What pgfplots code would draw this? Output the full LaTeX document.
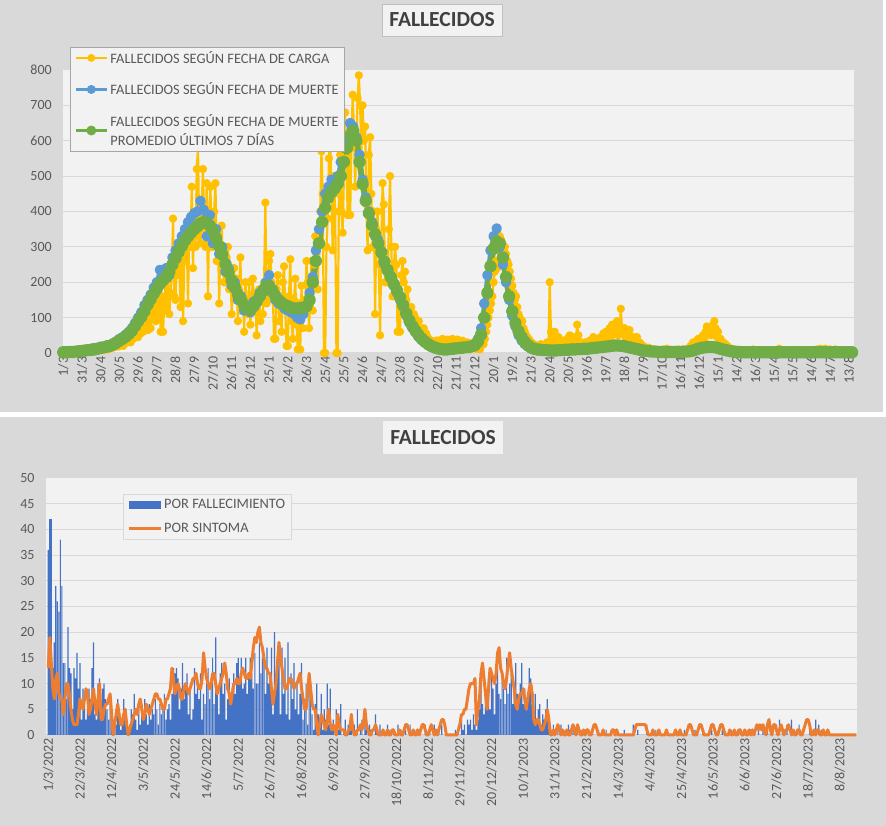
\documentclass[border=0pt]{standalone}
\usepackage{fontspec}
\setmainfont{Carlito}
\usepackage{pgfplots}
\pgfplotsset{compat=1.18}
\usepackage{pgfplotstable}
\definecolor{bggray}{HTML}{D9D9D9}
\definecolor{plotbg}{HTML}{F2F2F2}
\definecolor{gridc}{HTML}{D9D9D9}
\definecolor{lblc}{HTML}{595959}
\definecolor{titlec}{HTML}{404040}
\definecolor{legb}{HTML}{A6A6A6}
\definecolor{titb}{HTML}{BFBFBF}
\definecolor{cyel}{HTML}{FFC000}
\definecolor{cblu}{HTML}{5B9BD5}
\definecolor{cgrn}{HTML}{70AD47}
\definecolor{cbar}{HTML}{4472C4}
\definecolor{corg}{HTML}{ED7D31}

% top chart: one row every 5 days from 1/3/2020 (g = promedio 7 dias, b = fecha de muerte)
\pgfplotstableread[row sep=\\]{g b y\\
2 2 0\\2 3 1\\3 3 2\\3 4 5\\4 5 3\\5 6 8\\6 7 4\\7 9 12\\8 8 6\\9 12 10\\
10 14 7\\12 11 15\\14 18 10\\16 15 20\\18 22 12\\20 19 25\\24 28 15\\29 33 24\\35 40 20\\40 45 38\\
46 52 28\\54 60 45\\63 70 35\\76 85 60\\90 100 45\\102 115 80\\118 135 60\\136 150 110\\152 165 70\\168 185 140\\
182 200 90\\196 235 160\\206 230 60\\214 240 190\\230 220 110\\250 270 380\\268 290 150\\286 310 250\\302 330 90\\318 350 280\\
330 370 140\\340 385 470\\350 395 300\\358 400 580\\366 430 310\\370 405 520\\368 330 160\\360 390 470\\345 310 300\\325 350 480\\
302 280 140\\278 300 360\\252 230 200\\228 240 300\\205 190 110\\185 200 240\\166 150 90\\150 160 270\\136 120 60\\124 130 200\\
122 115 80\\132 145 210\\145 150 50\\160 170 180\\175 180 110\\188 200 425\\190 220 150\\178 170 280\\162 150 40\\150 140 220\\
142 135 60\\136 125 245\\132 120 20\\128 115 265\\126 110 40\\126 100 210\\127 95 10\\128 110 190\\132 130 70\\150 170 260\\
200 215 120\\260 290 330\\310 350 180\\370 400 570\\410 450 0\\440 470 380\\455 490 620\\465 480 290\\478 500 0\\500 540 560\\
540 580 340\\580 610 680\\615 650 390\\628 640 730\\600 610 470\\540 560 785\\478 490 700\\430 440 600\\395 400 290\\362 370 610\\
336 330 110\\310 320 400\\285 280 50\\258 250 480\\235 230 200\\215 210 500\\195 190 160\\176 170 300\\158 150 60\\135 130 260\\
112 105 230\\92 85 180\\76 70 90\\62 58 110\\50 45 60\\40 36 70\\32 30 40\\25 22 45\\20 17 30\\16 14 25\\
13 12 35\\11 10 20\\10 9 40\\10 10 22\\11 12 38\\12 13 18\\13 15 40\\14 13 25\\15 17 38\\16 15 20\\
17 18 35\\19 20 15\\22 24 30\\32 40 10\\52 70 25\\100 140 40\\170 220 80\\245 290 120\\295 330 200\\315 352 260\\
310 300 330\\270 250 310\\215 200 280\\160 150 230\\118 105 190\\85 75 150\\62 50 110\\45 35 80\\32 25 60\\22 18 40\\
16 12 30\\12 10 20\\10 8 15\\9 7 18\\8 6 25\\8 7 20\\7 6 200\\7 8 60\\7 6 45\\8 9 20\\
8 7 35\\9 10 15\\9 8 40\\10 12 50\\10 9 25\\11 12 80\\11 10 20\\12 13 15\\12 11 30\\13 14 25\\
14 13 10\\15 16 45\\16 17 30\\17 18 25\\18 19 55\\19 20 40\\20 22 80\\21 20 60\\21 22 90\\20 19 125\\
19 18 70\\17 15 45\\15 13 65\\13 11 30\\11 9 45\\9 7 20\\7 6 25\\6 5 15\\5 4 10\\4 3 12\\
4 3 5\\3 3 8\\3 2 6\\3 3 10\\3 2 5\\3 3 12\\3 2 6\\3 3 8\\3 3 5\\4 4 10\\
4 5 8\\5 6 15\\7 8 30\\10 12 25\\13 15 40\\15 17 35\\16 18 45\\17 16 75\\17 18 55\\16 15 90\\
14 13 45\\11 10 35\\9 8 20\\7 6 15\\5 4 10\\4 3 12\\3 3 6\\3 2 4\\2 2 8\\2 2 3\\
2 2 5\\2 2 2\\2 2 10\\2 2 3\\2 1 4\\2 2 2\\2 2 6\\2 2 3\\2 2 5\\2 2 2\\
2 2 4\\2 1 12\\2 2 3\\2 2 5\\2 2 2\\2 2 6\\2 2 3\\2 2 8\\2 2 4\\2 2 3\\
2 2 5\\2 2 8\\2 2 3\\2 2 10\\2 2 4\\2 2 12\\2 2 5\\2 2 3\\2 2 10\\2 2 4\\
2 2 2\\2 1 1\\2 1 1\\2 1 1\\
}\topdata

% top chart, fecha de carga: one value every 2 days from 1/3/2020
\pgfplotstableread[row sep=\\]{y\\
0\\1\\0\\2\\1\\3\\1\\2\\4\\2\\ 3\\5\\2\\8\\4\\6\\3\\10\\5\\12\\
6\\9\\4\\11\\8\\14\\6\\12\\9\\16\\ 10\\14\\8\\20\\12\\18\\10\\25\\14\\22\\
15\\26\\20\\30\\18\\35\\24\\42\\20\\38\\ 28\\45\\35\\55\\30\\62\\40\\70\\45\\58\\
45\\80\\55\\95\\60\\105\\70\\120\\65\\110\\ 70\\140\\95\\155\\90\\170\\110\\190\\60\\160\\
60\\150\\190\\120\\210\\110\\170\\230\\380\\160\\ 150\\280\\220\\250\\130\\300\\90\\260\\280\\320\\
140\\360\\300\\470\\240\\380\\300\\520\\580\\330\\ 310\\420\\520\\350\\300\\480\\160\\390\\470\\300\\
300\\400\\480\\260\\330\\140\\290\\360\\240\\200\\ 200\\270\\300\\180\\240\\110\\200\\240\\150\\210\\
90\\180\\270\\120\\160\\60\\200\\140\\110\\200\\ 80\\150\\210\\120\\170\\50\\140\\180\\90\\110\\
110\\200\\425\\140\\150\\260\\280\\200\\160\\40\\ 40\\180\\220\\90\\150\\60\\200\\245\\120\\20\\
20\\160\\265\\90\\40\\150\\210\\80\\10\\140\\ 10\\190\\70\\150\\130\\260\\200\\70\\150\\260\\
120\\250\\330\\280\\180\\350\\400\\570\\450\\0\\ 0\\300\\380\\550\\620\\450\\290\\500\\400\\0\\
0\\450\\560\\400\\340\\500\\680\\550\\390\\620\\ 390\\580\\730\\640\\470\\600\\720\\785\\700\\560\\
700\\600\\640\\420\\290\\560\\610\\450\\300\\400\\ 110\\350\\400\\250\\50\\300\\480\\420\\200\\260\\
200\\350\\500\\300\\160\\240\\300\\250\\60\\180\\ 60\\220\\260\\200\\230\\150\\180\\120\\90\\130\\
90\\110\\100\\80\\60\\90\\70\\60\\50\\70\\ 40\\55\\45\\40\\30\\35\\30\\28\\25\\35\\
35\\25\\20\\30\\40\\25\\22\\35\\38\\30\\ 18\\28\\40\\32\\25\\35\\38\\28\\20\\30\\
35\\25\\15\\28\\30\\22\\10\\25\\18\\30\\ 20\\12\\25\\15\\10\\20\\30\\25\\40\\60\\
80\\100\\120\\140\\160\\200\\230\\260\\240\\300\\ 330\\320\\310\\290\\300\\280\\260\\250\\230\\210\\
190\\170\\150\\160\\130\\110\\100\\80\\90\\70\\ 60\\50\\45\\40\\35\\30\\28\\25\\20\\22\\
15\\18\\20\\25\\22\\18\\20\\25\\30\\20\\ 200\\60\\45\\30\\60\\40\\30\\45\\20\\25\\
35\\20\\15\\25\\40\\30\\50\\35\\25\\45\\ 25\\35\\80\\50\\20\\30\\15\\25\\30\\20\\
30\\25\\35\\10\\20\\45\\25\\30\\40\\25\\ 30\\45\\25\\55\\35\\60\\40\\50\\70\\45\\
80\\55\\60\\75\\90\\50\\60\\125\\70\\55\\ 70\\40\\45\\60\\65\\35\\30\\45\\25\\40\\
45\\20\\30\\25\\15\\20\\15\\12\\10\\15\\ 10\\12\\8\\5\\10\\8\\6\\5\\8\\4\\
6\\10\\5\\8\\12\\6\\5\\8\\4\\6\\ 6\\8\\5\\10\\6\\4\\8\\10\\6\\8\\
8\\12\\15\\20\\18\\30\\25\\28\\35\\40\\ 40\\35\\45\\50\\35\\60\\75\\55\\65\\50\\
55\\80\\90\\70\\45\\60\\35\\40\\25\\30\\ 20\\25\\15\\18\\12\\10\\12\\8\\6\\10\\
6\\4\\8\\5\\3\\8\\4\\3\\6\\2\\ 5\\2\\3\\10\\3\\4\\2\\6\\3\\2\\
4\\2\\6\\3\\2\\5\\2\\4\\3\\2\\ 5\\2\\4\\3\\12\\3\\2\\5\\3\\2\\
3\\5\\2\\6\\3\\2\\8\\4\\3\\2\\ 3\\8\\4\\3\\2\\5\\3\\2\\8\\3\\
5\\8\\3\\2\\10\\4\\3\\12\\5\\3\\ 4\\12\\5\\3\\2\\10\\4\\2\\3\\10\\
4\\2\\3\\2\\1\\1\\
}\yeldata

% bottom chart: one value per day from 1/3/2022
\pgfplotstableread[row sep=\\]{v\\
36\\42\\42\\13\\18\\29\\26\\24\\38\\29\\14\\14\\7\\21\\13\\12\\5\\13\\11\\16\\
9\\14\\3\\9\\6\\3\\5\\9\\7\\13\\18\\4\\3\\10\\11\\3\\9\\10\\7\\5\\
3\\6\\4\\1\\3\\2\\7\\5\\1\\2\\7\\5\\3\\1\\2\\5\\4\\8\\3\\1\\
5\\2\\6\\3\\7\\4\\2\\6\\3\\5\\4\\7\\5\\2\\6\\4\\5\\8\\3\\5\\
6\\3\\8\\13\\12\\13\\11\\5\\9\\14\\7\\10\\12\\4\\9\\3\\5\\13\\8\\10\\
7\\12\\3\\8\\6\\10\\13\\7\\11\\15\\6\\19\\9\\4\\12\\14\\8\\10\\3\\7\\
11\\8\\9\\12\\8\\14\\15\\11\\15\\9\\10\\15\\8\\11\\15\\12\\9\\16\\10\\10\\
18\\12\\15\\16\\8\\17\\10\\12\\17\\4\\20\\11\\14\\17\\4\\17\\8\\15\\4\\18\\
3\\12\\7\\14\\5\\10\\4\\8\\14\\3\\7\\10\\2\\9\\10\\4\\1\\6\\10\\4\\
2\\8\\1\\5\\3\\10\\2\\9\\1\\3\\0\\5\\1\\2\\6\\0\\1\\3\\0\\2\\
1\\4\\0\\2\\1\\5\\0\\1\\3\\0\\4\\1\\0\\2\\1\\0\\0\\4\\1\\0\\
2\\0\\1\\0\\0\\2\\1\\0\\0\\1\\0\\0\\2\\0\\1\\0\\0\\1\\0\\0\\
2\\0\\0\\1\\0\\0\\1\\0\\0\\0\\2\\0\\0\\1\\0\\0\\2\\0\\0\\1\\
0\\2\\0\\0\\1\\0\\0\\0\\0\\0\\1\\0\\2\\0\\3\\1\\2\\0\\3\\2\\
3\\1\\4\\2\\1\\3\\5\\10\\6\\4\\8\\6\\11\\5\\12\\9\\4\\10\\13\\8\\
7\\12\\9\\6\\15\\8\\10\\12\\6\\9\\14\\8\\7\\10\\14\\6\\9\\5\\8\\13\\
11\\6\\4\\8\\3\\5\\6\\2\\4\\3\\5\\7\\2\\1\\0\\2\\1\\0\\1\\0\\
2\\0\\1\\0\\0\\2\\1\\0\\1\\0\\0\\2\\0\\0\\1\\0\\0\\1\\0\\0\\
0\\1\\0\\0\\0\\1\\0\\0\\0\\0\\1\\0\\0\\0\\0\\0\\1\\0\\0\\0\\
0\\0\\1\\0\\0\\0\\0\\0\\2\\0\\0\\1\\0\\0\\0\\0\\0\\2\\0\\0\\
0\\0\\0\\1\\0\\0\\0\\0\\0\\0\\1\\0\\0\\0\\0\\0\\1\\0\\0\\0\\
0\\0\\1\\0\\0\\0\\0\\0\\0\\1\\0\\0\\0\\0\\1\\0\\0\\0\\0\\0\\
1\\0\\0\\0\\0\\0\\0\\1\\0\\0\\0\\0\\0\\1\\0\\0\\0\\0\\0\\1\\
0\\0\\0\\0\\1\\0\\0\\0\\0\\0\\0\\2\\0\\0\\1\\0\\0\\2\\0\\1\\
0\\0\\0\\2\\0\\3\\0\\1\\0\\0\\2\\0\\0\\3\\0\\1\\0\\0\\2\\1\\
0\\0\\0\\0\\0\\1\\0\\0\\0\\3\\0\\2\\0\\1\\0\\0\\0\\0\\0\\0\\
}\falldata

\pgfplotstableread[row sep=\\]{v\\
13\\19\\14\\9\\7\\11\\12\\8\\7\\7\\4\\7\\10\\10\\8\\5\\3\\2\\2\\2\\
4\\7\\6\\5\\7\\9\\8\\4\\5\\7\\9\\6\\4\\7\\10\\3\\3\\5\\6\\6\\
7\\8\\4\\0\\2\\4\\6\\4\\2\\2\\4\\5\\2\\0\\1\\2\\3\\4\\5\\4\\
6\\7\\5\\3\\4\\6\\5\\4\\5\\6\\7\\8\\8\\7\\7\\6\\5\\5\\7\\7\\
8\\9\\13\\11\\8\\9\\10\\9\\7\\7\\9\\10\\9\\8\\9\\10\\11\\11\\12\\10\\
9\\9\\11\\16\\13\\11\\10\\9\\10\\12\\12\\10\\8\\9\\10\\11\\12\\14\\12\\9\\
8\\6\\8\\10\\10\\11\\10\\10\\12\\13\\12\\11\\11\\12\\11\\14\\17\\19\\18\\20\\
21\\18\\17\\15\\13\\13\\12\\12\\9\\6\\8\\10\\14\\18\\15\\13\\11\\9\\9\\10\\
11\\11\\10\\9\\10\\10\\11\\12\\9\\7\\5\\5\\8\\12\\9\\6\\5\\5\\2\\0\\
2\\4\\3\\2\\1\\3\\5\\2\\1\\2\\1\\0\\4\\2\\1\\1\\1\\0\\0\\1\\
1\\4\\1\\0\\0\\1\\1\\2\\1\\2\\5\\2\\1\\0\\0\\1\\1\\2\\1\\0\\
0\\0\\1\\0\\0\\1\\0\\0\\1\\1\\0\\0\\0\\1\\0\\0\\1\\2\\2\\1\\
0\\0\\1\\0\\0\\1\\0\\1\\2\\2\\1\\0\\0\\1\\2\\1\\0\\1\\0\\1\\
2\\3\\3\\2\\0\\0\\0\\0\\0\\0\\0\\0\\1\\2\\4\\4\\5\\5\\7\\9\\
10\\10\\10\\11\\2\\5\\7\\12\\14\\11\\8\\5\\9\\13\\12\\11\\10\\12\\16\\17\\
13\\12\\10\\9\\11\\14\\16\\13\\11\\9\\6\\5\\7\\8\\8\\9\\7\\5\\7\\9\\
10\\8\\3\\2\\3\\3\\2\\1\\1\\2\\3\\5\\3\\0\\0\\1\\0\\1\\2\\1\\
0\\1\\0\\0\\1\\0\\0\\1\\2\\1\\0\\2\\1\\0\\0\\1\\0\\1\\1\\0\\
0\\1\\2\\2\\1\\0\\0\\0\\1\\0\\0\\0\\0\\0\\1\\1\\0\\1\\0\\0\\
0\\0\\0\\0\\0\\0\\0\\0\\0\\1\\2\\2\\2\\2\\2\\2\\2\\1\\0\\0\\
0\\1\\0\\0\\0\\1\\0\\0\\0\\0\\1\\0\\0\\0\\0\\0\\1\\0\\0\\1\\
0\\0\\0\\0\\1\\2\\2\\1\\0\\0\\0\\1\\2\\2\\1\\0\\0\\0\\0\\1\\
2\\2\\1\\0\\0\\1\\2\\2\\1\\0\\0\\0\\1\\0\\0\\1\\0\\0\\1\\1\\
0\\0\\1\\0\\0\\1\\0\\1\\0\\1\\2\\1\\2\\1\\2\\1\\0\\2\\3\\1\\
0\\2\\2\\1\\0\\1\\2\\1\\0\\1\\1\\2\\1\\0\\1\\0\\0\\1\\1\\0\\
0\\1\\2\\3\\3\\2\\0\\0\\1\\0\\1\\1\\0\\0\\1\\0\\0\\1\\0\\0\\
0\\0\\0\\0\\0\\0\\0\\0\\0\\0\\0\\0\\0\\0\\0\\0\\0\\
}\sintdata

\pgfplotsset{excel/.style={
  scale only axis, enlargelimits=false, clip=false,
  axis line style={draw=none}, tick style={draw=none}, major tick length=0pt,
  axis background/.style={fill=plotbg},
  ymajorgrids, grid style={gridc, line width=1pt},
  tick label style={font=\fontsize{14}{16}\selectfont, text=lblc, /pgf/number format/assume math mode=true},
  xticklabel style={rotate=90, anchor=east},
  yticklabel style={xshift=-8pt},
  legend cell align=left,
}}

\begin{document}
\begin{tikzpicture}
\fill[white] (0pt,0pt) rectangle (886pt,826pt);
\fill[bggray] (0pt,414pt) rectangle (883pt,826pt);
\fill[bggray] (0pt,0pt) rectangle (886pt,409pt);

\begin{axis}[excel,
  at={(63.3pt,473pt)}, anchor=south west, width=790.7pt, height=283pt,
  xmin=0, xmax=1268, ymin=0, ymax=800,
  ytick={0,100,...,800},
  xtick={0,30,...,1260},
  xticklabels={1/3,31/3,30/4,30/5,29/6,29/7,28/8,27/9,27/10,26/11,26/12,25/1,24/2,26/3,25/4,25/5,24/6,24/7,23/8,22/9,22/10,21/11,21/12,20/1,19/2,21/3,20/4,20/5,19/6,19/7,18/8,17/9,17/10,16/11,16/12,15/1,14/2,16/3,15/4,15/5,14/6,14/7,13/8},
  title={FALLECIDOS},
  title style={at={(0.479,1.1555)}, anchor=center, fill=plotbg, draw=titb, font=\bfseries\fontsize{21.5}{24}\selectfont, text=titlec, minimum width=120pt, minimum height=32pt, inner sep=0pt},
  legend style={at={(0.0085,1.0813)}, anchor=north west, fill=plotbg, draw=legb, font=\fontsize{14.4}{19}\selectfont, text=lblc, cells={align=left}, row sep=14pt, inner xsep=4pt, inner ysep=2pt},
]
\addplot[cyel, line width=2.2pt, line join=round, mark=*, mark size=3pt, mark options={fill=cyel, draw=cyel},
  legend image code/.code={\draw[line width=1.8pt, mark repeat=2, mark phase=2] plot coordinates {(0pt,0pt)(15.5pt,0pt)(31pt,0pt)};}]
  table[x expr=\coordindex*2, y=y] {\yeldata};
\addlegendentry{FALLECIDOS SEGÚN FECHA DE CARGA}
\addplot[cblu, line width=4pt, line join=round, mark=*, mark size=3.2pt, mark options={fill=cblu, draw=cblu},
  legend image code/.code={\draw[line width=2.5pt, mark repeat=2, mark phase=2] plot coordinates {(0pt,0pt)(15.5pt,0pt)(31pt,0pt)};}]
  table[x expr=\coordindex*5, y=b] {\topdata};
\addlegendentry{FALLECIDOS SEGÚN FECHA DE MUERTE}
\addplot[cgrn, line width=6pt, line join=round, mark=*, mark size=3.3pt, mark options={fill=cgrn, draw=cgrn},
  legend image code/.code={\draw[line width=3.2pt, mark repeat=2, mark phase=2] plot coordinates {(0pt,0pt)(15.5pt,0pt)(31pt,0pt)};}]
  table[x expr=\coordindex*5, y=g] {\topdata};
\addlegendentry{FALLECIDOS SEGÚN FECHA DE MUERTE\\PROMEDIO ÚLTIMOS 7 DÍAS}
\end{axis}

\begin{axis}[excel,
  at={(46pt,91pt)}, anchor=south west, width=811pt, height=257pt,
  xmin=-1.53, xmax=536.4, ymin=0, ymax=50,
  ytick={0,5,...,50},
  xtick={0,21,...,525},
  xticklabels={1/3/2022,22/3/2022,12/4/2022,3/5/2022,24/5/2022,14/6/2022,5/7/2022,26/7/2022,16/8/2022,6/9/2022,27/9/2022,18/10/2022,8/11/2022,29/11/2022,20/12/2022,10/1/2023,31/1/2023,21/2/2023,14/3/2023,4/4/2023,25/4/2023,16/5/2023,6/6/2023,27/6/2023,18/7/2023,8/8/2023},
  title={FALLECIDOS},
  title style={at={(0.4895,1.134)}, anchor=center, fill=plotbg, font=\bfseries\fontsize{21.5}{24}\selectfont, text=titlec, minimum width=120pt, minimum height=33pt, inner sep=0pt},
  legend style={at={(0.095,0.938)}, anchor=north west, fill=plotbg, draw=gridc, font=\fontsize{14.4}{17}\selectfont, text=lblc, row sep=9pt, inner xsep=4pt, inner ysep=3pt},
]
\addplot[ybar, bar width=1.2pt, fill=cbar, draw=none,
  legend image code/.code={\fill[cbar] (0pt,-4pt) rectangle (32pt,4pt);}]
  table[x expr=\coordindex, y=v] {\falldata};
\addlegendentry{POR FALLECIMIENTO}
\addplot[corg, line width=3pt, line join=round,
  legend image code/.code={\draw[corg, line width=3pt] (0pt,0pt) -- (32pt,0pt);}]
  table[x expr=\coordindex, y=v] {\sintdata};
\addlegendentry{POR SINTOMA}
\end{axis}
\end{tikzpicture}
\end{document}
